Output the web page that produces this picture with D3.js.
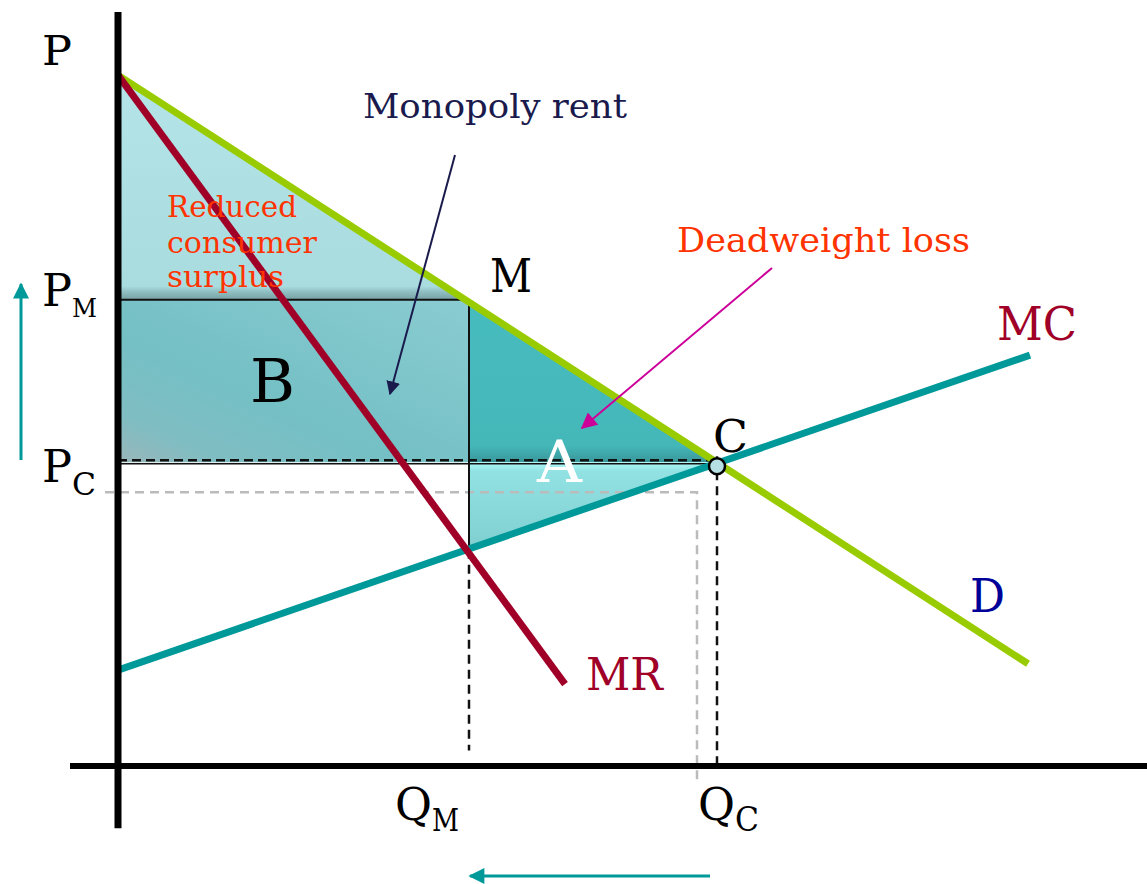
<!DOCTYPE html>
<html>
<head>
<meta charset="utf-8">
<script src="https://cdn.jsdelivr.net/npm/d3@7"></script>
<style>
  body { margin: 0; background: #fff; }
  text { font-family: "DejaVu Serif", "Liberation Serif", serif; }
</style>
</head>
<body>
<div id="chart"></div>
<script>
// curve endpoints (quantity, price in chart units)
const demand = [{q: 0, p: 98.7}, {q: 91.0, p: 14.6}];
const marginalRevenue = [{q: 0, p: 98.7}, {q: 44.7, p: 11.7}];
const marginalCost = [{q: 0, p: 13.7}, {q: 91.2, p: 58.7}];

// key levels
const qM = 35.1, qC = 59.9;
const pM = 66.6, pC = 43.4, pMCatQM = 30.9;
const qGhost = 57.9, pGhost = 39.1;   // grey dashed guide
const axisQ = [-4.8, 102.9], axisP = [-8.9, 107.7];

const width = 1147, height = 884;

const x = d3.scaleLinear().domain([0, 100]).range([118, 1118]);
const y = d3.scaleLinear().domain([0, 100]).range([766, 66]);

const svg = d3.select("#chart").append("svg")
    .attr("width", width)
    .attr("height", height);

const defs = svg.append("defs");

function marker(id, color, w, h) {
    defs.append("marker")
        .attr("id", id)
        .attr("viewBox", "0 0 10 10")
        .attr("refX", 9).attr("refY", 5)
        .attr("markerWidth", w).attr("markerHeight", h)
        .attr("markerUnits", "userSpaceOnUse")
        .attr("orient", "auto")
        .append("path")
        .attr("d", "M0,0 L10,5 L0,10 Z")
        .attr("fill", color);
}
marker("arrNavy", "#1a1a4d", 14, 14);
marker("arrMag", "#cc0099", 18, 16);
marker("arrTeal", "#009999", 18, 16);

function grad(id, stops, x1, y1, x2, y2) {
    const g = defs.append("linearGradient").attr("id", id)
        .attr("x1", x1).attr("y1", y1).attr("x2", x2).attr("y2", y2);
    stops.forEach(s => g.append("stop").attr("offset", s[0]).attr("stop-color", s[1]));
}
grad("gCS", [[0, "#b4e4e7"], [0.94, "#a9dcdf"], [0.965, "#8fbec1"], [1, "#76a0a3"]], 0, 0, 0, 1);
grad("gB", [[0, "#8accd1"], [0.6, "#74c0c5"], [0.85, "#7fbdc2"], [1, "#9ab6ba"]], 1, 0, 0, 1);
grad("gDW", [[0, "#47bcbe"], [0.9, "#44b7b9"], [1, "#3a9699"]], 0, 0, 0, 1);
grad("gLow", [[0, "#b0fafa"], [0.1, "#92e2e3"], [1, "#7fcfd1"]], 0, 0, 0, 1);

const line = d3.line().x(d => x(d.q)).y(d => y(d.p));
const poly = pts => "M" + pts.map(d => [x(d.q), y(d.p)].join(",")).join("L") + "Z";

// shaded areas
svg.append("path")
    .attr("d", poly([{q: 0, p: demand[0].p}, {q: qM, p: pM}, {q: 0, p: pM}]))
    .attr("fill", "url(#gCS)");
svg.append("path")
    .attr("d", poly([{q: 0, p: pM}, {q: qM, p: pM}, {q: qM, p: pC}, {q: 0, p: pC}]))
    .attr("fill", "url(#gB)");
svg.append("path")
    .attr("d", poly([{q: qM, p: pM}, {q: qC, p: pC}, {q: qM, p: pC}]))
    .attr("fill", "url(#gDW)");
svg.append("path")
    .attr("d", poly([{q: qM, p: pC}, {q: qC, p: pC}, {q: qM, p: pMCatQM}]))
    .attr("fill", "url(#gLow)");

// grey dashed guide
svg.append("path")
    .attr("d", `M${x(-1.3)},${y(pGhost)} H${x(qGhost)} V${y(-2)}`)
    .attr("fill", "none").attr("stroke", "#bbbbbb").attr("stroke-width", 2.5)
    .attr("stroke-dasharray", "9,6");

// black guide lines
svg.append("line")
    .attr("x1", x(0)).attr("x2", x(qM)).attr("y1", y(pM)).attr("y2", y(pM))
    .attr("stroke", "#111").attr("stroke-width", 2);
svg.append("line")
    .attr("x1", x(qM)).attr("x2", x(qM)).attr("y1", y(pM)).attr("y2", y(pMCatQM))
    .attr("stroke", "#111").attr("stroke-width", 2);
svg.append("line")
    .attr("x1", x(0)).attr("x2", x(qC)).attr("y1", y(pC) + 1.5).attr("y2", y(pC) + 1.5)
    .attr("stroke", "#111").attr("stroke-width", 1.5);
svg.append("line")
    .attr("x1", x(0)).attr("x2", x(qC)).attr("y1", y(pC) - 2).attr("y2", y(pC) - 2)
    .attr("stroke", "#111").attr("stroke-width", 2.5).attr("stroke-dasharray", "9,5");
svg.append("line")
    .attr("x1", x(qM)).attr("x2", x(qM)).attr("y1", y(pMCatQM)).attr("y2", y(2.2))
    .attr("stroke", "#111").attr("stroke-width", 2.5).attr("stroke-dasharray", "9,6");
svg.append("line")
    .attr("x1", x(qC)).attr("x2", x(qC)).attr("y1", y(pC) - 6).attr("y2", y(0))
    .attr("stroke", "#111").attr("stroke-width", 2.5).attr("stroke-dasharray", "9,6");

// curves
svg.append("path").datum(marginalCost).attr("d", line)
    .attr("stroke", "#009999").attr("stroke-width", 7).attr("fill", "none");
svg.append("path").datum(demand).attr("d", line)
    .attr("stroke", "#99cc00").attr("stroke-width", 7).attr("fill", "none");
svg.append("path").datum(marginalRevenue).attr("d", line)
    .attr("stroke", "#a00028").attr("stroke-width", 7).attr("fill", "none");

// axes
svg.append("line")
    .attr("x1", x(0)).attr("x2", x(0)).attr("y1", y(axisP[1])).attr("y2", y(axisP[0]))
    .attr("stroke", "#000").attr("stroke-width", 7);
svg.append("line")
    .attr("x1", x(axisQ[0])).attr("x2", x(axisQ[1])).attr("y1", y(0)).attr("y2", y(0))
    .attr("stroke", "#000").attr("stroke-width", 6);

// competitive point
svg.append("circle")
    .attr("cx", x(qC)).attr("cy", y(pC) + 4).attr("r", 8)
    .attr("fill", "#b5dfe2").attr("stroke", "#000").attr("stroke-width", 2.5);

// pointer arrows
svg.append("line")
    .attr("x1", 455).attr("y1", 155).attr("x2", 390).attr("y2", 394)
    .attr("stroke", "#1a1a4d").attr("stroke-width", 2).attr("marker-end", "url(#arrNavy)");
svg.append("line")
    .attr("x1", 772).attr("y1", 268).attr("x2", 582).attr("y2", 428)
    .attr("stroke", "#cc0099").attr("stroke-width", 2).attr("marker-end", "url(#arrMag)");
svg.append("line")
    .attr("x1", 21).attr("y1", 460).attr("x2", 21).attr("y2", 284)
    .attr("stroke", "#009999").attr("stroke-width", 3).attr("marker-end", "url(#arrTeal)");
svg.append("line")
    .attr("x1", 710).attr("y1", 876).attr("x2", 470).attr("y2", 876)
    .attr("stroke", "#009999").attr("stroke-width", 3).attr("marker-end", "url(#arrTeal)");

// labels
function label(tx, ty, str, size, color, len) {
    const t = svg.append("text").attr("x", tx).attr("y", ty)
        .attr("font-size", size).attr("fill", color).text(str);
    if (len) t.attr("textLength", len).attr("lengthAdjust", "spacingAndGlyphs");
    return t;
}
function subLabel(tx, ty, main, sub, size, subSize, dy, lenMain, lenSub) {
    label(tx, ty, main, size, "#000", lenMain);
    label(tx + lenMain, ty + dy, sub, subSize, "#000", lenSub);
}
label(42, 65, "P", 41, "#000", 30);
subLabel(42, 306, "P", "M", 44, 26, 11, 30, 25);
subLabel(42, 482, "P", "C", 44, 32, 13, 30, 24);
subLabel(395, 820, "Q", "M", 45, 32, 11, 37, 27);
subLabel(698, 820, "Q", "C", 45, 33, 11, 37, 24);
label(490, 292, "M", 46, "#000", 42);
label(713, 452, "C", 44, "#000", 35);
label(997, 340, "MC", 47, "#a00028", 80);
label(970, 612, "D", 46, "#000099", 35);
label(586, 690, "MR", 45, "#a00028", 77);
label(250, 402, "B", 60, "#000", 45);
label(537, 482, "A", 58, "#fff", 45);
label(363, 118, "Monopoly rent", 34, "#1a1a4d", 264);
label(677, 252, "Deadweight loss", 34, "#ff3300", 293);
label(167, 217, "Reduced", 30, "#ff3300", 130);
label(167, 253, "consumer", 30, "#ff3300", 150);
label(167, 287, "surplus", 30, "#ff3300", 117);
</script>
</body>
</html>
